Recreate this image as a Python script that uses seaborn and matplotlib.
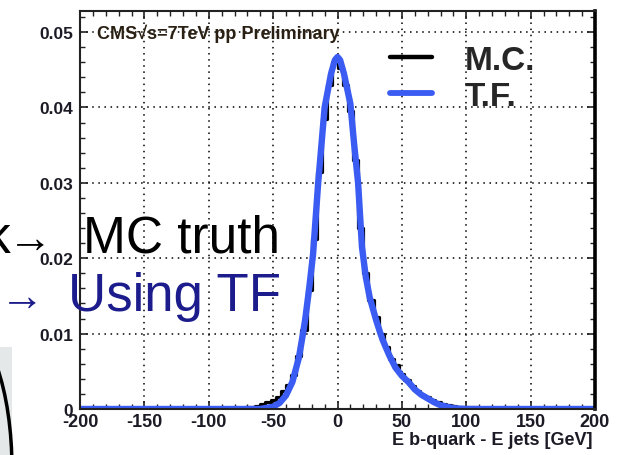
import numpy as np
import pandas as pd
import seaborn as sns
import matplotlib
matplotlib.use("Agg")
import matplotlib.pyplot as plt
from matplotlib.lines import Line2D
from matplotlib.patches import Rectangle, Ellipse
from matplotlib.ticker import FixedLocator, FixedFormatter, MultipleLocator
from matplotlib.transforms import IdentityTransform

# ---------------- data ----------------
# M.C. histogram (4 GeV bins); bins not listed are zero
mc_centers = [-78, -74, -70, -66, -62, -58, -54, -50, -46, -42, -38, -34, -30, -26,
              -22, -18, -14, -10, -6, -2, 2, 6, 10, 14, 18, 22, 26, 30, 34, 38, 42,
              46, 50, 54, 58, 62, 66, 70, 74, 78, 82, 86, 90, 94, 98, 102, 106, 110,
              114, 118]
mc_values = [0.0001, 0.0001, 0.0002, 0.0003, 0.0004, 0.0006, 0.0009, 0.0012, 0.0016,
             0.0024, 0.0032, 0.0045, 0.0070, 0.0105, 0.0158, 0.0225, 0.0315, 0.0385,
             0.0430, 0.0460, 0.0452, 0.0430, 0.0395, 0.0330, 0.0240, 0.0180, 0.0145,
             0.0122, 0.0100, 0.0082, 0.0066, 0.0058, 0.0046, 0.0038, 0.0030, 0.0024,
             0.0019, 0.0016, 0.0012, 0.0009, 0.0007, 0.0005, 0.0004, 0.0003, 0.0003,
             0.0002, 0.0002, 0.0001, 0.0001, 0.0001]

# T.F. curve
tf_x = [-200, -60, -50, -45, -40, -35, -30, -27, -25, -22, -19, -15, -10, -5, -2, 0,
        2, 5, 10, 13, 16, 19, 22, 25, 30, 33, 35, 40, 45, 50, 55, 60, 65, 70, 75, 80,
        85, 90, 100, 200]
tf_y = [0.0, 0.0, 0.0003, 0.0008, 0.0018, 0.0036, 0.0068, 0.0098, 0.0120, 0.0160,
        0.0205, 0.0300, 0.0400, 0.0445, 0.0463, 0.0467, 0.0463, 0.0445, 0.0405,
        0.0350, 0.0300, 0.0215, 0.0175, 0.0148, 0.0118, 0.0102, 0.0092, 0.0072,
        0.0055, 0.0044, 0.0036, 0.0026, 0.0019, 0.0014, 0.0009, 0.0005, 0.0003,
        0.0001, 0.0, 0.0]

xtick_values = [-200, -150, -100, -50, 0, 50, 100, 150, 200]
xtick_labels = ["-200", "-150", "-100", "-50", "0", "50", "100", "150", "200"]
ytick_values = [0.0, 0.01, 0.02, 0.03, 0.04, 0.05]
ytick_labels = ["0", "0.01", "0.02", "0.03", "0.04", "0.05"]
legend_labels = ["M.C.", "T.F."]

# ---------------- style ----------------
sns.set_theme(style="ticks")
plt.rcParams["font.family"] = ["Liberation Sans", "DejaVu Sans"]

W, H = 624, 456
fig = plt.figure(figsize=(W / 100, H / 100), dpi=100)
fig.patch.set_facecolor("white")
ax = fig.add_axes([80 / W, 46 / H, 515 / W, 398 / H])
ax.set_facecolor("white")

BLUE = "#3a5cf2"
TXT = "#1c1a24"

mc_df = pd.DataFrame({"x": mc_centers, "w": mc_values})
sns.histplot(data=mc_df, x="x", weights="w", binwidth=4, binrange=(-200, 200),
             element="step", fill=False, color="black", linewidth=2.3, ax=ax)

tf_df = pd.DataFrame({"x": tf_x, "y": tf_y})
sns.lineplot(data=tf_df, x="x", y="y", color=BLUE, linewidth=4.6, ax=ax,
             solid_capstyle="round", solid_joinstyle="round")

ax.set_xlim(-200, 200)
ax.set_ylim(0, 0.0528)
ax.set_xlabel("")
ax.set_ylabel("")

ax.xaxis.set_major_locator(FixedLocator(xtick_values))
ax.xaxis.set_major_formatter(FixedFormatter(xtick_labels))
ax.yaxis.set_major_locator(FixedLocator(ytick_values))
ax.yaxis.set_major_formatter(FixedFormatter(ytick_labels))
ax.xaxis.set_minor_locator(MultipleLocator(10))
ax.yaxis.set_minor_locator(MultipleLocator(0.002))

ax.tick_params(which="both", direction="in", top=True, right=True, colors="#222222")
ax.tick_params(which="major", length=6, width=1.2)
ax.tick_params(which="minor", length=3.5, width=1.0)
ax.tick_params(axis="x", which="major", labelsize=13, pad=3, labelcolor=TXT)
ax.tick_params(axis="y", which="major", labelsize=12.5, pad=5, labelcolor=TXT)
for lab in ax.get_xticklabels() + ax.get_yticklabels():
    lab.set_fontweight("bold")

ax.grid(True, which="major", color="black", linestyle=(0, (1, 3)), linewidth=1.1)
ax.set_axisbelow(True)
for side in ["left", "top", "bottom"]:
    ax.spines[side].set_color("#222222")
    ax.spines[side].set_linewidth(1.5)
ax.spines["right"].set_color("black")
ax.spines["right"].set_linewidth(2.6)

fig.text(97 / W, 1 - 34 / H, "CMS\u221as=7TeV pp Preliminary",
         fontsize=13, fontweight="bold", color="#2a2014", va="center", ha="left",
         family=["Liberation Sans", "DejaVu Sans"])

fig.text(593 / W, 1 - 441 / H, "E b-quark - E jets [GeV]", fontsize=13,
         fontweight="bold", color=TXT, ha="right", va="center")

handles = [Line2D([], [], color="black", lw=3.2), Line2D([], [], color=BLUE, lw=4.2)]
leg = ax.legend(handles, legend_labels, loc="upper left",
                bbox_to_anchor=(390 / W, 1 - 46 / H), bbox_transform=fig.transFigure,
                frameon=False, prop={"family": "Liberation Sans", "weight": "bold",
                                     "size": 24},
                handlelength=1.25, handletextpad=1.0, labelspacing=0.15,
                borderpad=0, borderaxespad=0)

# ---------------- slide overlay ----------------
fig.text(83 / W, 1 - 253 / H, "MC truth", fontsize=37, color="black",
         ha="left", va="baseline")
fig.text(52 / W, 1 - 252 / H, "\u2192", fontsize=32, color="black",
         ha="right", va="baseline", family=["Liberation Sans", "DejaVu Sans"])
fig.text(10 / W, 1 - 253 / H, "k", fontsize=37, color="black",
         ha="right", va="baseline")
fig.text(68 / W, 1 - 311 / H, "Using TF", fontsize=38, color="#1c1c8c",
         ha="left", va="baseline")
fig.text(44 / W, 1 - 310 / H, "\u2192", fontsize=32, color="#1c1c8c",
         ha="right", va="baseline", family=["Liberation Sans", "DejaVu Sans"])

fig.patches.append(Rectangle((0, 0), 12, 108, transform=IdentityTransform(),
                             facecolor="#e4e8e8", edgecolor="none", zorder=1))
fig.patches.append(Ellipse((-40, -14), 104, 291, transform=IdentityTransform(),
                           facecolor="none", edgecolor="black", lw=2.5, zorder=2))

fig.savefig("out.png", dpi=100)
